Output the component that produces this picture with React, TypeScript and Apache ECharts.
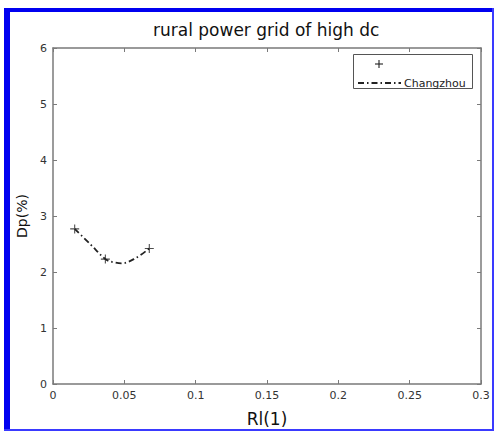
import React, { useEffect, useRef } from "react";
import * as echarts from "echarts";

const chartTitle = "rural power grid of high dc";
const xName = "Rl(1)";
const yName = "Dp(%)";
const seriesName = "Changzhou";

// dash-dot curve
const rlLine = [0.0152, 0.026, 0.0367, 0.0414, 0.0484, 0.0577, 0.0675];
const dpLine = [2.77, 2.5, 2.23, 2.18, 2.155, 2.245, 2.42];
// "+" markers
const rlMarks = [0.0152, 0.0367, 0.0675];
const dpMarks = [2.77, 2.23, 2.42];

const FONT = "DejaVu Sans";
const AXIS = "#7a7a7a";
const INK = "#222";
const DASHDOT = [6, 3, 1.5, 3];
const PLUS = "path://M4.4,0H5.6V10H4.4Z M0,4.4H10V5.6H0Z";

export default function App() {
  const ref = useRef<HTMLDivElement>(null);
  useEffect(() => {
    if (!ref.current) return;
    const chart = echarts.init(ref.current, null, { renderer: "svg" });
    const tickCommon = {
      show: true,
      inside: true,
      length: 4,
      lineStyle: { color: AXIS, width: 1 },
    };
    const lineCommon = { show: true, onZero: false, lineStyle: { color: AXIS, width: 1.5 } };
    chart.setOption({
      animation: false,
      backgroundColor: "#ffffff",
      title: {
        text: chartTitle,
        left: 153,
        top: 21,
        padding: 0,
        textStyle: { fontFamily: FONT, fontSize: 17, fontWeight: "normal", color: "#111" },
      },
      grid: { left: 53, right: 15, top: 48, bottom: 48, show: false },
      xAxis: [
        {
          type: "value",
          position: "bottom",
          min: 0,
          max: 0.3,
          interval: 0.05,
          name: xName,
          nameLocation: "middle",
          nameGap: 26,
          nameTextStyle: { fontFamily: FONT, fontSize: 17, color: "#111" },
          axisLine: lineCommon,
          axisTick: tickCommon,
          splitLine: { show: false },
          axisLabel: { fontFamily: FONT, fontSize: 11, color: "#333", margin: 6 },
        },
        {
          type: "value",
          position: "top",
          min: 0,
          max: 0.3,
          interval: 0.05,
          axisLine: lineCommon,
          axisTick: tickCommon,
          splitLine: { show: false },
          axisLabel: { show: false },
        },
      ],
      yAxis: [
        {
          type: "value",
          position: "left",
          min: 0,
          max: 6,
          interval: 1,
          name: yName,
          nameLocation: "middle",
          nameGap: 18,
          nameTextStyle: { fontFamily: FONT, fontSize: 14, color: "#111" },
          axisLine: lineCommon,
          axisTick: tickCommon,
          splitLine: { show: false },
          axisLabel: { fontFamily: FONT, fontSize: 11, color: "#333", margin: 6 },
        },
        {
          type: "value",
          position: "right",
          min: 0,
          max: 6,
          interval: 1,
          axisLine: lineCommon,
          axisTick: tickCommon,
          splitLine: { show: false },
          axisLabel: { show: false },
        },
      ],
      series: [
        {
          name: " ",
          type: "scatter",
          symbol: PLUS,
          symbolSize: 9,
          itemStyle: { color: INK },
          data: rlMarks.map((x, i) => [x, dpMarks[i]]),
          z: 3,
        },
        {
          name: seriesName,
          type: "line",
          smooth: 0.35,
          showSymbol: false,
          symbol: "none",
          lineStyle: { color: INK, width: 1.8, type: DASHDOT },
          data: rlLine.map((x, i) => [x, dpLine[i]]),
          z: 2,
        },
      ],
      graphic: [
        // legend box
        {
          type: "rect",
          shape: { x: 353.5, y: 54.5, width: 119, height: 34 },
          style: { fill: "#fff", stroke: "#555", lineWidth: 1 },
          z: 10,
        },
        {
          type: "line",
          shape: { x1: 375, y1: 64, x2: 383, y2: 64 },
          style: { stroke: INK, lineWidth: 1.1 },
          z: 11,
        },
        {
          type: "line",
          shape: { x1: 379, y1: 60, x2: 379, y2: 68 },
          style: { stroke: INK, lineWidth: 1.1 },
          z: 11,
        },
        {
          type: "line",
          shape: { x1: 358, y1: 83, x2: 401, y2: 83 },
          style: { stroke: INK, lineWidth: 1.8, lineDash: DASHDOT },
          z: 11,
        },
        {
          type: "text",
          x: 404,
          y: 83,
          style: {
            text: seriesName,
            fontFamily: FONT,
            fontSize: 11,
            fill: "#222",
            verticalAlign: "middle",
            align: "left",
          },
          z: 11,
        },
        // blue frame
        { type: "rect", shape: { x: 4, y: 8, width: 6, height: 423 }, style: { fill: "#0000f0" } },
        { type: "rect", shape: { x: 4, y: 8, width: 490, height: 4 }, style: { fill: "#0000f0" } },
        { type: "rect", shape: { x: 492, y: 8, width: 2, height: 423 }, style: { fill: "#3a3aff" } },
        { type: "rect", shape: { x: 4, y: 429, width: 490, height: 2 }, style: { fill: "#3a3aff" } },
      ],
    });
    return () => chart.dispose();
  }, []);
  return (
    <div
      ref={ref}
      style={{ position: "fixed", left: 0, top: 0, width: 496, height: 432 }}
    />
  );
}
